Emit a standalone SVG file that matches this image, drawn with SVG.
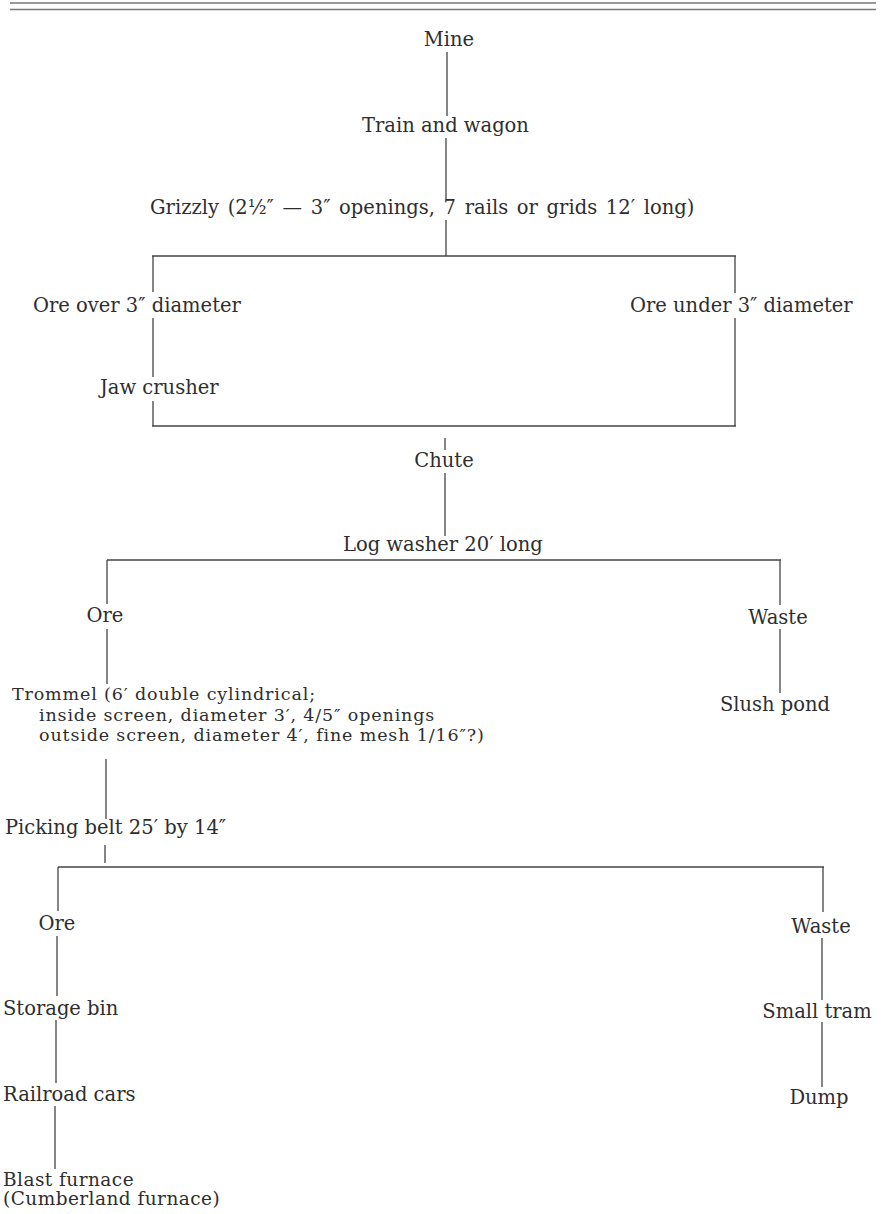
<svg xmlns="http://www.w3.org/2000/svg" width="881" height="1214" viewBox="0 0 881 1214">
<style>
text{font-family:"DejaVu Serif","Liberation Serif",serif;font-size:19.5px;fill:#2e2e2e}
.m{text-anchor:middle}
.s{font-size:18.5px;letter-spacing:0.45px}
.t{font-size:17.5px;letter-spacing:0.85px}
#connectors line{stroke:#444;stroke-width:1.3}
.rule{stroke:#777;stroke-width:1.6}
</style>
<rect width="881" height="1214" fill="#fff"/>
<line class="rule" x1="10" y1="3" x2="876" y2="3"/>
<line class="rule" x1="10" y1="9.5" x2="876" y2="9.5"/>
<g id="connectors">
<line x1="447" y1="52" x2="447" y2="116"/>
<line x1="446" y1="138" x2="446" y2="199"/>
<line x1="446" y1="220" x2="446" y2="256"/>
<line x1="152" y1="256" x2="736" y2="256"/>
<line x1="153" y1="256" x2="153" y2="292"/>
<line x1="153" y1="318" x2="153" y2="377"/>
<line x1="153" y1="401" x2="153" y2="426"/>
<line x1="735" y1="256" x2="735" y2="293"/>
<line x1="735" y1="318" x2="735" y2="426"/>
<line x1="152" y1="426" x2="736" y2="426"/>
<line x1="445" y1="438" x2="445" y2="450"/>
<line x1="445" y1="473" x2="445" y2="536"/>
<line x1="107" y1="560" x2="781" y2="560"/>
<line x1="107" y1="560" x2="107" y2="604"/>
<line x1="107" y1="629" x2="107" y2="684"/>
<line x1="106" y1="759" x2="106" y2="819"/>
<line x1="105" y1="845" x2="105" y2="863"/>
<line x1="58" y1="867" x2="824" y2="867"/>
<line x1="58" y1="867" x2="58" y2="911"/>
<line x1="57" y1="936" x2="57" y2="996"/>
<line x1="56" y1="1020" x2="56" y2="1083"/>
<line x1="55" y1="1106" x2="55" y2="1169"/>
<line x1="780" y1="560" x2="780" y2="605"/>
<line x1="780" y1="629" x2="780" y2="693"/>
<line x1="823" y1="867" x2="823" y2="912"/>
<line x1="822" y1="938" x2="822" y2="1000"/>
<line x1="822" y1="1022" x2="822" y2="1087"/>
</g>
<g id="mine"><text class="m" x="449" y="46">Mine</text></g>
<g id="train"><text x="362" y="132">Train and wagon</text></g>
<g id="grizzly"><text x="150" y="214" word-spacing="2.5">Grizzly (2½″ — 3″ openings, 7 rails or grids 12′ long)</text></g>
<g id="ore-over"><text x="33" y="312">Ore over 3″ diameter</text></g>
<g id="jaw"><text x="100" y="394">Jaw crusher</text></g>
<g id="ore-under"><text x="630" y="312">Ore under 3″ diameter</text></g>
<g id="chute"><text class="m" x="444" y="467">Chute</text></g>
<g id="logwasher"><text x="343" y="551">Log washer 20′ long</text></g>
<g id="ore1"><text class="m" x="105" y="622">Ore</text></g>
<g id="waste1"><text class="m" x="778" y="624">Waste</text></g>
<g id="slush"><text class="m" x="775" y="711">Slush pond</text></g>
<g id="trommel"><text class="t" x="12" y="700">Trommel (6′ double cylindrical;</text><text class="t" x="39" y="720.5">inside screen, diameter 3′, 4/5″ openings</text><text class="t" x="39" y="741">outside screen, diameter 4′, fine mesh 1/16″?)</text></g>
<g id="picking"><text x="5" y="834">Picking belt 25′ by 14″</text></g>
<g id="ore2"><text class="m" x="57" y="930">Ore</text></g>
<g id="waste2"><text class="m" x="821" y="933">Waste</text></g>
<g id="storage"><text x="3" y="1015">Storage bin</text></g>
<g id="railroad"><text x="3" y="1101">Railroad cars</text></g>
<g id="blast"><text class="s" x="3" y="1186">Blast furnace</text><text class="s" x="3" y="1205">(Cumberland furnace)</text></g>
<g id="tram"><text class="m" x="817" y="1018">Small tram</text></g>
<g id="dump"><text class="m" x="819" y="1104">Dump</text></g>
</svg>
